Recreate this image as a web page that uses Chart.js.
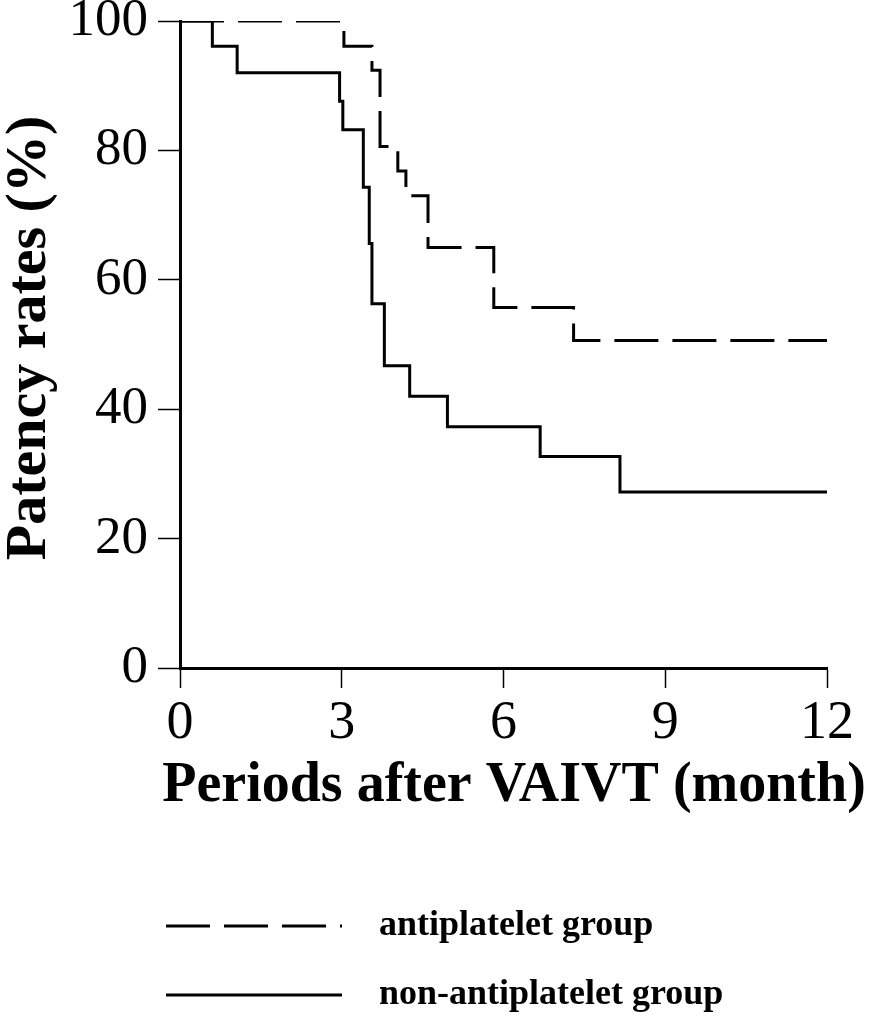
<!DOCTYPE html>
<html>
<head>
<meta charset="utf-8">
<script src="https://cdn.jsdelivr.net/npm/chart.js@4"></script>
<style>
  html, body { margin: 0; padding: 0; background: #fff; }
  #wrap { width: 894px; height: 1020px; position: relative; }
</style>
</head>
<body>
<div id="wrap"><canvas id="c"></canvas></div>
<script>
// Data (months, % patency)
const antiplateletMonths = [0, 3.04, 3.56, 3.71, 4.04, 4.19, 4.60, 5.82, 7.30, 12];
const antiplateletRates  = [100, 96.1, 92.4, 80.6, 76.8, 73.0, 65.0, 55.7, 50.6, 50.6];
const nonAntiplateletMonths = [0, 0.6, 1.06, 2.96, 3.02, 3.40, 3.51, 3.56, 3.79, 4.26, 4.96, 6.68, 8.16, 12];
const nonAntiplateletRates  = [100, 96.1, 92.0, 87.6, 83.2, 74.3, 65.6, 56.3, 46.7, 42.0, 37.3, 32.7, 27.2, 27.2];
const seriesLabels = ['antiplatelet group', 'non-antiplatelet group'];
const xTicks = [0, 3, 6, 9, 12];
const yTicks = [0, 20, 40, 60, 80, 100];
const xTitle = 'Periods after VAIVT (month)';
const yTitle = 'Patency rates (%)';

const SERIF = '"Liberation Serif", "Times New Roman", Times, serif';

function toPoints(xs, ys) { return xs.map((x, i) => ({ x: x, y: ys[i] })); }

// Axis titles (drawn without width squeezing, as in the reference) and legend
const textPlugin = {
  id: 'kmText',
  afterDraw(chart) {
    const ctx = chart.ctx;
    ctx.save();
    ctx.fillStyle = '#000';
    // x-axis title
    ctx.font = 'bold 56px ' + SERIF;
    ctx.textAlign = 'center';
    ctx.textBaseline = 'middle';
    ctx.fillText(xTitle, 514, 787);
    // y-axis title
    ctx.save();
    ctx.translate(30, 338);
    ctx.rotate(-Math.PI / 2);
    ctx.font = 'bold 58px ' + SERIF;
    ctx.fillText(yTitle, 0, 0);
    ctx.restore();
    ctx.restore();

    // legend
    const rows = [926, 995];
    chart.data.datasets.forEach((ds, i) => {
      const y = rows[i];
      ctx.save();
      ctx.strokeStyle = '#000';
      ctx.lineWidth = 3;
      ctx.lineCap = 'butt';
      ctx.setLineDash(ds.borderDash || []);
      ctx.beginPath();
      ctx.moveTo(166, y);
      ctx.lineTo(342, y);
      ctx.stroke();
      ctx.setLineDash([]);
      ctx.fillStyle = '#000';
      ctx.font = 'bold 36px ' + SERIF;
      ctx.textBaseline = 'middle';
      ctx.textAlign = 'left';
      ctx.fillText(ds.label, 379, y);
      ctx.restore();
    });
  }
};

new Chart(document.getElementById('c'), {
  type: 'line',
  data: {
    datasets: [
      {
        label: seriesLabels[0],
        data: toPoints(antiplateletMonths, antiplateletRates),
        borderColor: '#000',
        borderWidth: 3,
        borderDash: [44, 14],
        stepped: true,
        pointRadius: 0,
        fill: false
      },
      {
        label: seriesLabels[1],
        data: toPoints(nonAntiplateletMonths, nonAntiplateletRates),
        borderColor: '#000',
        borderWidth: 3,
        stepped: true,
        pointRadius: 0,
        fill: false
      }
    ]
  },
  options: {
    responsive: true,
    maintainAspectRatio: false,
    animation: false,
    layout: { padding: { top: 21, left: 0, right: 67, bottom: 195 } },
    plugins: { legend: { display: false }, tooltip: { enabled: false } },
    scales: {
      x: {
        type: 'linear',
        min: 0, max: 12,
        afterBuildTicks(scale) { scale.ticks = xTicks.map(v => ({ value: v })); },
        afterFit(scale) { scale.height = 157; scale.paddingLeft = 0; scale.paddingRight = 0; },
        border: { display: true, color: '#000', width: 3 },
        grid: { display: true, drawOnChartArea: false, drawTicks: true, tickLength: 20, tickWidth: 1.5, tickColor: '#000', color: '#000' },
        ticks: { color: '#000', padding: 9, maxRotation: 0, font: { family: SERIF, size: 54, lineHeight: 1.0 } },
        title: { display: false, text: xTitle }
      },
      y: {
        min: 0, max: 100,
        afterBuildTicks(scale) { scale.ticks = yTicks.map(v => ({ value: v })); },
        afterFit(scale) { scale.width = 180; scale.paddingTop = 0; scale.paddingBottom = 0; },
        border: { display: true, color: '#000', width: 3 },
        grid: { display: true, drawOnChartArea: false, drawTicks: true, tickLength: 22, tickWidth: 1.5, tickColor: '#000', color: '#000' },
        ticks: { color: '#000', padding: 10, font: { family: SERIF, size: 53, lineHeight: 1.0 } },
        title: { display: false, text: yTitle }
      }
    }
  },
  plugins: [textPlugin]
});
</script>
</body>
</html>
